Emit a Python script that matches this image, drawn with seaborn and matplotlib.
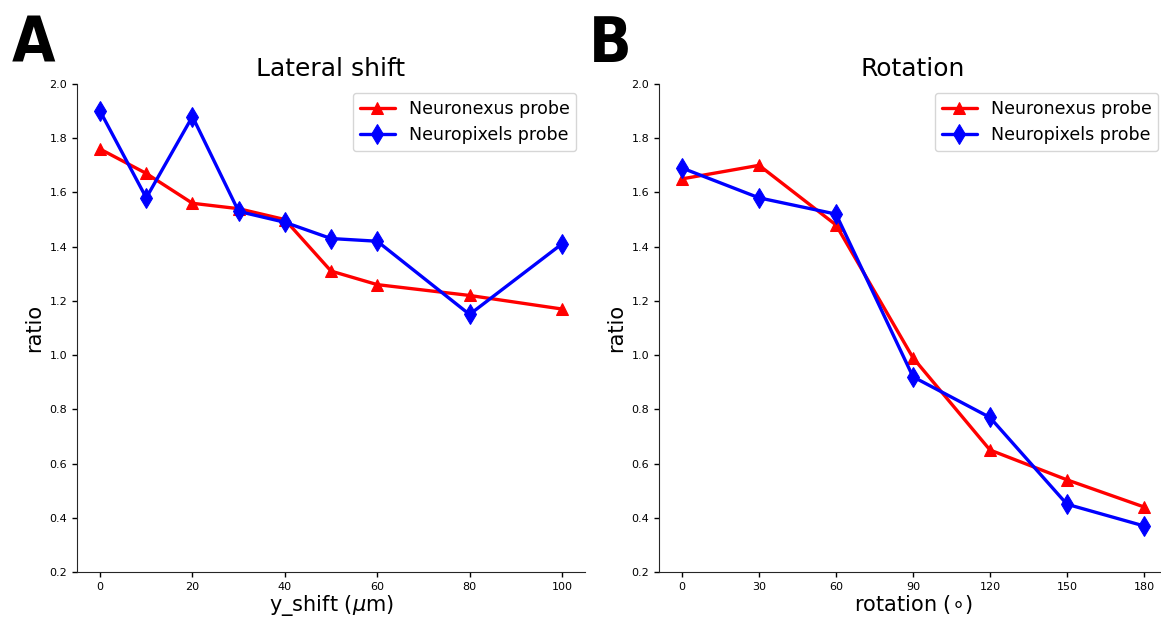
import numpy as np
import pandas as pd
import matplotlib
matplotlib.use("Agg")
import matplotlib.pyplot as plt
import seaborn as sns

# data
shift_um = [0, 10, 20, 30, 40, 50, 60, 80, 100]
shift_neuronexus = [1.76, 1.67, 1.56, 1.54, 1.50, 1.31, 1.26, 1.22, 1.17]
shift_neuropixels = [1.90, 1.58, 1.88, 1.53, 1.49, 1.43, 1.42, 1.15, 1.41]

rotation_deg = [0, 30, 60, 90, 120, 150, 180]
rot_neuronexus = [1.65, 1.70, 1.48, 0.99, 0.65, 0.54, 0.44]
rot_neuropixels = [1.69, 1.58, 1.52, 0.92, 0.77, 0.45, 0.37]

sns.set_style("ticks")
plt.rcParams["font.family"] = ["DejaVu Sans"]
plt.rcParams["text.color"] = "black"
plt.rcParams["axes.labelcolor"] = "black"
plt.rcParams["xtick.color"] = "black"
plt.rcParams["ytick.color"] = "black"

fig = plt.figure(figsize=(11.61, 6.17), dpi=100)
ax1 = fig.add_axes([0.0663, 0.0729, 0.4376, 0.7910])
ax2 = fig.add_axes([0.5676, 0.0729, 0.4376, 0.7910])


def draw(ax, x, nexus, pixels):
    sns.lineplot(x=x, y=nexus, ax=ax, color="red", marker="^", markersize=9,
                 markeredgecolor="red", linewidth=2.4, label="Neuronexus probe")
    sns.lineplot(x=x, y=pixels, ax=ax, color="blue", marker="d", markersize=10,
                 markeredgecolor="blue", linewidth=2.4, label="Neuropixels probe")
    ax.set_ylim(0.2, 2.0)
    ax.set_yticks(np.arange(0.2, 2.01, 0.2))
    ax.tick_params(labelsize=8, length=3.5, width=1)
    ax.set_ylabel("ratio", fontsize=15)
    ax.legend(loc="upper right", fontsize=12.5, handlelength=2.0)
    sns.despine(ax=ax)


draw(ax1, shift_um, shift_neuronexus, shift_neuropixels)
ax1.set_xlim(-5, 105)
ax1.set_xticks([0, 20, 40, 60, 80, 100])
ax1.set_title("Lateral shift", fontsize=18)
ax1.set_xlabel(r"y_shift ($\mu$m)", fontsize=15, labelpad=1)

draw(ax2, rotation_deg, rot_neuronexus, rot_neuropixels)
ax2.set_xlim(-9, 189)
ax2.set_xticks(rotation_deg)
ax2.set_title("Rotation", fontsize=18)
ax2.set_xlabel(r"rotation ($\circ$)", fontsize=15, labelpad=1)

fig.text(0.010, 0.900, "A", fontsize=45, fontweight="bold", fontstretch="condensed")
fig.text(0.507, 0.900, "B", fontsize=45, fontweight="bold", fontstretch="condensed")

fig.savefig("out.png", dpi=100)
